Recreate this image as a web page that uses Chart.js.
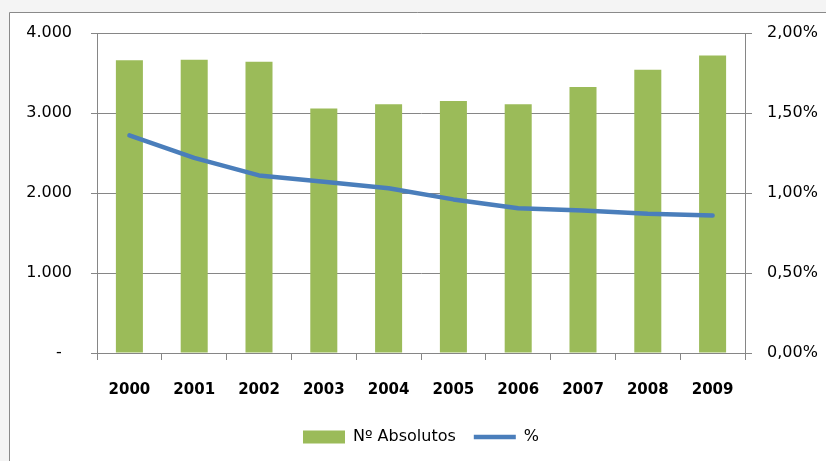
<!DOCTYPE html>
<html>
<head>
<meta charset="utf-8">
<script src="https://cdn.jsdelivr.net/npm/chart.js@4/dist/chart.umd.min.js"></script>
<style>
html,body{margin:0;padding:0;background:#f4f4f4;}
canvas{display:block;}
</style>
</head>
<body>
<canvas id="c" width="826" height="461"></canvas>
<script>
const years = ['2000','2001','2002','2003','2004','2005','2006','2007','2008','2009'];
const absolutos = [3660, 3665, 3640, 3055, 3110, 3150, 3110, 3325, 3540, 3720];
const percent = [1.36, 1.22, 1.11, 1.07, 1.03, 0.96, 0.905, 0.89, 0.87, 0.86];
const leftTicks = [0, 1000, 2000, 3000, 4000];
const rightTicks = [0, 0.5, 1, 1.5, 2];

const GRID = '#868686';
const FONT = 'DejaVu Sans';

function fmtThousands(v){
  if (v === 0) return '-  ';
  return String(v).replace(/\B(?=(\d{3})+(?!\d))/g, '.');
}
function fmtPct(v){
  return v.toFixed(2).replace('.', ',') + '%';
}

const bgPlugin = {
  id: 'bg',
  beforeDraw(chart){
    const ctx = chart.ctx;
    ctx.save();
    ctx.fillStyle = '#f4f4f4';
    ctx.fillRect(0, 0, chart.width, chart.height);
    ctx.fillStyle = '#ffffff';
    ctx.fillRect(10, 13, chart.width - 10, chart.height - 13);
    ctx.strokeStyle = '#8a8a8a';
    ctx.lineWidth = 1;
    ctx.beginPath();
    ctx.moveTo(9.5, chart.height);
    ctx.lineTo(9.5, 12.5);
    ctx.lineTo(chart.width, 12.5);
    ctx.stroke();
    ctx.restore();
  }
};

new Chart(document.getElementById('c'), {
  data: {
    labels: years,
    datasets: [
      {
        type: 'bar',
        label: 'Nº Absolutos',
        data: absolutos,
        backgroundColor: '#9bbb59',
        borderWidth: 0,
        yAxisID: 'y',
        order: 1,
        categoryPercentage: 1,
        barPercentage: 0.417,
        pointStyle: 'rect'
      },
      {
        type: 'line',
        label: '%',
        data: percent,
        borderColor: '#4a7ebb',
        backgroundColor: '#4a7ebb',
        borderWidth: 4.5,
        borderCapStyle: 'round',
        borderJoinStyle: 'round',
        pointRadius: 0,
        tension: 0,
        yAxisID: 'y2',
        order: 0,
        pointStyle: 'line'
      }
    ]
  },
  options: {
    responsive: false,
    animation: false,
    devicePixelRatio: 1,
    layout: { padding: { top: 33, left: 0, right: 0, bottom: 6 } },
    plugins: {
      tooltip: { enabled: false },
      legend: {
        position: 'bottom',
        fullSize: false,
        labels: {
          usePointStyle: true,
          pointStyleWidth: 42,
          boxHeight: 13,
          padding: 18,
          color: '#000',
          font: { family: FONT, size: 16 },
          sort: (a, b) => a.datasetIndex - b.datasetIndex
        }
      }
    },
    scales: {
      x: {
        offset: true,
        afterFit(s){ s.height = 58; },
        grid: { offset: true, drawOnChartArea: false, drawTicks: true, tickLength: 7, color: GRID },
        border: { display: true, color: GRID },
        ticks: { color: '#000', padding: 21, font: { family: FONT, size: 15, weight: 'bold' } }
      },
      y: {
        position: 'left',
        min: 0, max: 4000,
        afterFit(s){ s.width = 97; },
        afterBuildTicks(s){ s.ticks = leftTicks.map(v => ({ value: v })); },
        grid: { color: GRID, drawTicks: true, tickLength: 6 },
        border: { display: true, color: GRID },
        ticks: { color: '#000', padding: 19, callback: fmtThousands, font: { family: FONT, size: 16 } }
      },
      y2: {
        position: 'right',
        min: 0, max: 2,
        afterFit(s){ s.width = 81; },
        afterBuildTicks(s){ s.ticks = rightTicks.map(v => ({ value: v })); },
        grid: { drawOnChartArea: false, color: GRID, drawTicks: true, tickLength: 7 },
        border: { display: true, color: GRID },
        ticks: { color: '#000', padding: 15, callback: fmtPct, font: { family: FONT, size: 16 } }
      }
    }
  },
  plugins: [bgPlugin]
});
</script>
</body>
</html>
